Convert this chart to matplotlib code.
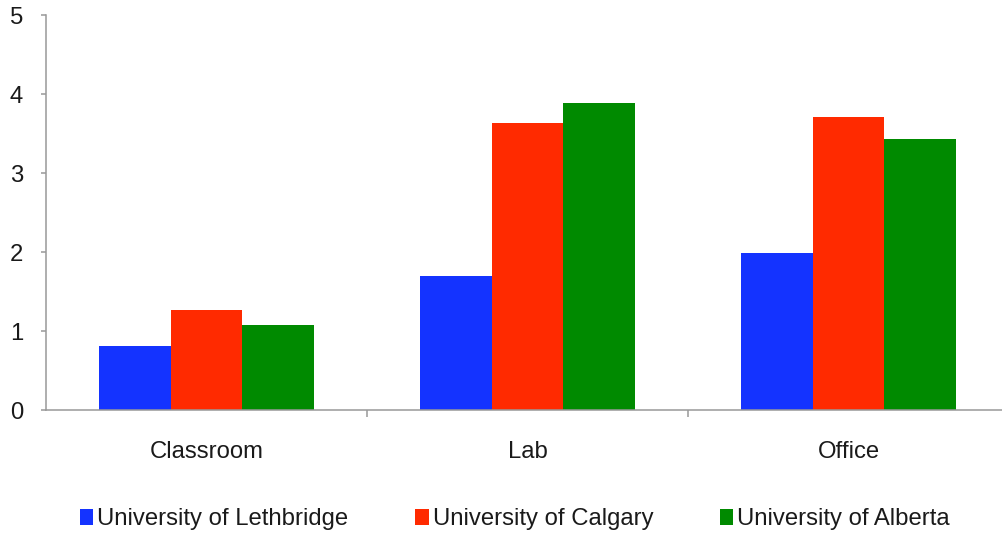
import numpy as np
import matplotlib.pyplot as plt
from matplotlib.patches import Patch

plt.rcParams['font.family'] = ['Liberation Sans', 'DejaVu Sans']

categories = ['Classroom', 'Lab', 'Office']
universities = ['University of Lethbridge', 'University of Calgary', 'University of Alberta']
lethbridge = [0.81, 1.70, 1.99]
calgary = [1.26, 3.63, 3.71]
alberta = [1.08, 3.88, 3.43]
colors = ['#1433ff', '#ff2a00', '#008a00']

fig = plt.figure(figsize=(10.03, 5.34), dpi=100)
ax = fig.add_axes([0.0459, 0.2322, 0.9601, 0.7397])

x = np.arange(len(categories))
w = 0.224
for i, (vals, c) in enumerate(zip([lethbridge, calgary, alberta], colors)):
    ax.bar(x + (i - 1) * w, vals, w, color=c, linewidth=0)

ax.set_xlim(-0.5, 2.5)
ax.set_ylim(0, 5)
ax.set_yticks(range(6))

ax.set_xticks(x)
ax.set_xticklabels(categories)
ax.set_xticks([0.5, 1.5], minor=True)
ax.tick_params(axis='x', which='major', length=0, pad=22, labelsize=17.2, labelcolor='#1a1a1a')
ax.tick_params(axis='x', which='minor', length=5, width=1.1, color='#999999')
ax.tick_params(axis='y', length=3.6, width=1.1, color='#999999', pad=13,
               labelsize=17.2, labelcolor='#1a1a1a')

for s in ['top', 'right']:
    ax.spines[s].set_visible(False)
for s in ['left', 'bottom']:
    ax.spines[s].set_color('#999999')
    ax.spines[s].set_linewidth(1.1)

handles = [Patch(facecolor=c, edgecolor='none') for c in colors]
fig.legend(handles, universities, loc='center left', bbox_to_anchor=(0.080, 0.028),
           ncol=3, frameon=False, fontsize=17.2, handlelength=0.55, handleheight=0.64,
           handletextpad=0.17, columnspacing=2.8, borderaxespad=0, borderpad=0,
           labelcolor='#1a1a1a')

fig.savefig('out.png', dpi=100)
